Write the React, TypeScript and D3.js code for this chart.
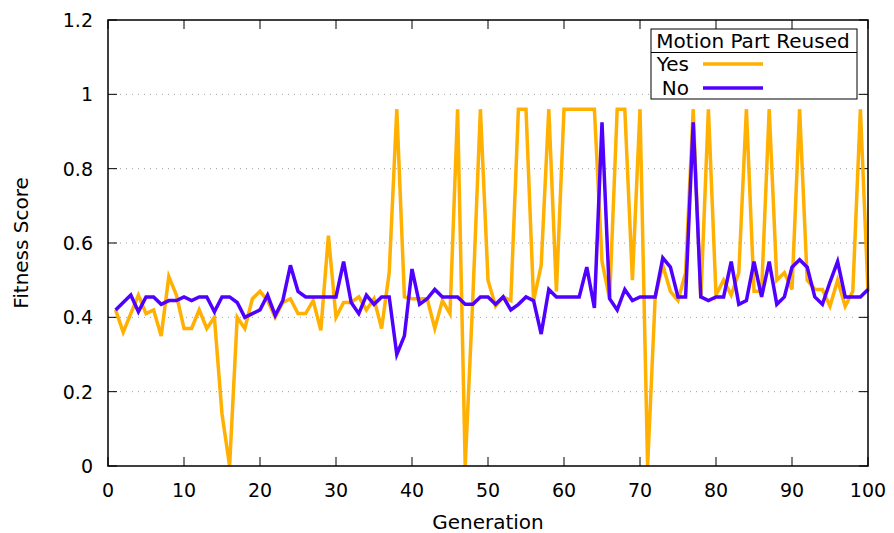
import React, { useRef, useEffect } from "react";
import * as d3 from "d3";

// fitness per generation 1..100
const yesScores = [
  0.42, 0.36, 0.41, 0.46, 0.41, 0.42, 0.35, 0.51, 0.46, 0.37,
  0.37, 0.42, 0.37, 0.4, 0.14, 0, 0.4, 0.37, 0.45, 0.47,
  0.445, 0.4, 0.44, 0.45, 0.41, 0.41, 0.445, 0.365, 0.62, 0.4,
  0.44, 0.44, 0.455, 0.42, 0.45, 0.37, 0.52, 0.96, 0.455, 0.45,
  0.45, 0.45, 0.37, 0.445, 0.41, 0.96, 0, 0.45, 0.96, 0.5,
  0.43, 0.455, 0.445, 0.96, 0.96, 0.445, 0.54, 0.96, 0.47, 0.96,
  0.96, 0.96, 0.96, 0.96, 0.55, 0.45, 0.96, 0.96, 0.5, 0.96,
  0, 0.455, 0.54, 0.47, 0.445, 0.52, 0.96, 0.45, 0.96, 0.46,
  0.5, 0.46, 0.52, 0.96, 0.47, 0.47, 0.96, 0.5, 0.52, 0.475,
  0.96, 0.5, 0.475, 0.475, 0.43, 0.5, 0.43, 0.47, 0.96, 0.47,
];

const noScores = [
  0.42, 0.44, 0.46, 0.415, 0.455, 0.455, 0.435, 0.445, 0.445, 0.455,
  0.445, 0.455, 0.455, 0.415, 0.455, 0.455, 0.44, 0.4, 0.41, 0.42,
  0.46, 0.405, 0.445, 0.54, 0.47, 0.455, 0.455, 0.455, 0.455, 0.455,
  0.55, 0.44, 0.41, 0.46, 0.435, 0.455, 0.455, 0.3, 0.35, 0.53,
  0.435, 0.45, 0.475, 0.455, 0.455, 0.455, 0.435, 0.435, 0.455, 0.455,
  0.435, 0.455, 0.42, 0.435, 0.455, 0.445, 0.355, 0.475, 0.455, 0.455,
  0.455, 0.455, 0.535, 0.425, 0.925, 0.45, 0.42, 0.475, 0.445, 0.455,
  0.455, 0.455, 0.56, 0.535, 0.455, 0.455, 0.925, 0.455, 0.445, 0.455,
  0.455, 0.55, 0.435, 0.445, 0.55, 0.455, 0.55, 0.435, 0.455, 0.535,
  0.555, 0.535, 0.455, 0.435, 0.495, 0.55, 0.455, 0.455, 0.455, 0.475,
];

const xTicks = [0, 10, 20, 30, 40, 50, 60, 70, 80, 90, 100];
const yTicks = [0, 0.2, 0.4, 0.6, 0.8, 1, 1.2];
const seriesNames = ["Yes", "No"];
const seriesColors = ["#ffb000", "#5000ff"];

const App = () => {
  const ref = useRef<SVGSVGElement>(null);
  const width = 894;
  const height = 533;
  const left = 108;
  const right = 868;
  const top = 20;
  const bottom = 466;
  const font = "DejaVu Sans, sans-serif";

  useEffect(() => {
    const svg = d3.select(ref.current);
    svg.selectAll("*").remove();

    const x = d3.scaleLinear().domain([0, 100]).range([left, right]);
    const y = d3.scaleLinear().domain([0, 1.2]).range([bottom, top]);

    // dotted grid
    svg
      .append("g")
      .selectAll("line")
      .data(yTicks.filter((t) => t > 0 && t < 1.2))
      .enter()
      .append("line")
      .attr("x1", left)
      .attr("x2", right)
      .attr("y1", (d) => y(d))
      .attr("y2", (d) => y(d))
      .attr("stroke", "#a0a0a0")
      .attr("stroke-width", 1)
      .attr("stroke-dasharray", "1,5");

    const tickLen = 9;
    const ticks = svg.append("g").attr("stroke", "black").attr("stroke-width", 1);
    yTicks.forEach((t) => {
      ticks.append("line").attr("x1", left).attr("x2", left + tickLen).attr("y1", y(t)).attr("y2", y(t));
      ticks.append("line").attr("x1", right).attr("x2", right - tickLen).attr("y1", y(t)).attr("y2", y(t));
    });
    xTicks.forEach((t) => {
      ticks.append("line").attr("x1", x(t)).attr("x2", x(t)).attr("y1", bottom).attr("y2", bottom - tickLen);
      ticks.append("line").attr("x1", x(t)).attr("x2", x(t)).attr("y1", top).attr("y2", top + tickLen);
    });

    // tick labels
    svg
      .append("g")
      .selectAll("text")
      .data(yTicks)
      .enter()
      .append("text")
      .attr("x", left - 15)
      .attr("y", (d) => y(d) + 7)
      .attr("text-anchor", "end")
      .attr("font-family", font)
      .attr("font-size", "19px")
      .text((d) => (d === 0 || d === 1 ? String(d) : d.toFixed(1)));

    svg
      .append("g")
      .selectAll("text")
      .data(xTicks)
      .enter()
      .append("text")
      .attr("x", (d) => x(d))
      .attr("y", bottom + 31)
      .attr("text-anchor", "middle")
      .attr("font-family", font)
      .attr("font-size", "19px")
      .text((d) => d);

    // lines
    const line = d3
      .line<number>()
      .x((d, i) => x(i + 1))
      .y((d) => y(d));

    [yesScores, noScores].forEach((s, i) => {
      svg
        .append("path")
        .datum(s)
        .attr("d", line)
        .attr("fill", "none")
        .attr("stroke", seriesColors[i])
        .attr("stroke-width", 3.5)
        .attr("stroke-linejoin", "miter");
    });

    // border
    svg
      .append("rect")
      .attr("x", left)
      .attr("y", top)
      .attr("width", right - left)
      .attr("height", bottom - top)
      .attr("fill", "none")
      .attr("stroke", "black")
      .attr("stroke-width", 1.5);

    // axis titles
    svg
      .append("text")
      .attr("x", 488)
      .attr("y", 529)
      .attr("text-anchor", "middle")
      .attr("font-family", font)
      .attr("font-size", "20px")
      .text("Generation");

    svg
      .append("text")
      .attr("transform", `translate(28, ${(top + bottom) / 2}) rotate(-90)`)
      .attr("text-anchor", "middle")
      .attr("font-family", font)
      .attr("font-size", "20px")
      .text("Fitness Score");

    // legend
    const lg = svg.append("g");
    lg.append("rect")
      .attr("x", 651)
      .attr("y", 29)
      .attr("width", 206)
      .attr("height", 70)
      .attr("fill", "white")
      .attr("stroke", "black")
      .attr("stroke-width", 1);
    lg.append("line")
      .attr("x1", 651)
      .attr("x2", 857)
      .attr("y1", 52.5)
      .attr("y2", 52.5)
      .attr("stroke", "black");
    lg.append("text")
      .attr("x", 753)
      .attr("y", 48)
      .attr("text-anchor", "middle")
      .attr("font-family", font)
      .attr("font-size", "20px")
      .text("Motion Part Reused");

    seriesNames.forEach((name, i) => {
      const ly = 64 + i * 24;
      lg.append("text")
        .attr("x", 689)
        .attr("y", ly + 7)
        .attr("text-anchor", "end")
        .attr("font-family", font)
        .attr("font-size", "20px")
        .text(name);
      lg.append("line")
        .attr("x1", 703)
        .attr("x2", 763)
        .attr("y1", ly)
        .attr("y2", ly)
        .attr("stroke", seriesColors[i])
        .attr("stroke-width", 3.5);
    });
  }, []);

  return (
    <svg
      ref={ref}
      width={width}
      height={height}
      style={{ position: "absolute", left: 0, top: 0, background: "white" }}
    ></svg>
  );
};

export default App;
